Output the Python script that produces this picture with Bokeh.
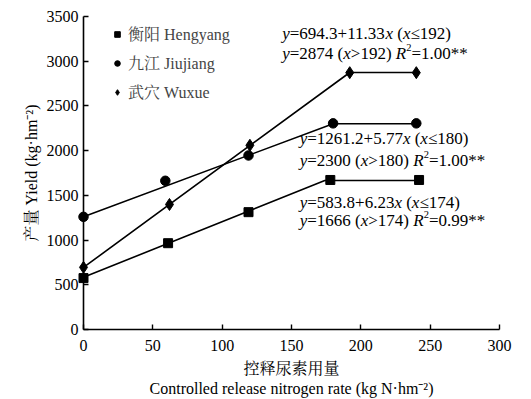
from bokeh.plotting import figure
from bokeh.models import Range1d, FixedTicker, Legend, LegendItem, Label
from bokeh.embed import file_html
from bokeh.resources import INLINE

# ---- data ----
x_ticks = [0, 50, 100, 150, 200, 250, 300]
y_ticks = [0, 500, 1000, 1500, 2000, 2500, 3000, 3500]

hengyang_x = [0, 61, 119, 178, 242]
hengyang_y = [575, 965, 1312, 1672, 1672]
jiujiang_x = [0, 59, 119, 180, 240]
jiujiang_y = [1260, 1663, 1946, 2305, 2305]
wuxue_x = [0, 62, 120, 192, 240]
wuxue_y = [695, 1398, 2060, 2872, 2872]

# fitted linear-plateau segments
hengyang_fit_x = [0, 174, 242]
hengyang_fit_y = [583.8, 1666, 1666]
jiujiang_fit_x = [0, 180, 240]
jiujiang_fit_y = [1261.2, 2300, 2300]
wuxue_fit_x = [0, 192, 240]
wuxue_fit_y = [694.3, 2874, 2874]

labels = ["衡阳 Hengyang", "九江 Jiujiang", "武穴 Wuxue"]

SERIF = "'Liberation Serif', 'Noto Serif CJK SC', 'Noto Sans CJK SC', serif"
FS = 16
EQ_FS = 17

p = figure(width=531, height=399, output_backend="svg", toolbar_location=None,
           x_range=Range1d(0, 300), y_range=Range1d(0, 3500),
           min_border_left=83, min_border_right=32, min_border_top=16, min_border_bottom=70)
p.outline_line_color = None
p.grid.visible = False
p.background_fill_color = "white"

for ax in (p.xaxis[0], p.yaxis[0]):
    ax.major_tick_in = 5
    ax.major_tick_out = 0
    ax.minor_tick_in = 0
    ax.minor_tick_out = 0
    ax.axis_line_width = 1.6
    ax.major_tick_line_width = 1.4
    ax.major_label_text_font = SERIF
    ax.major_label_text_font_size = f"{FS}px"
    ax.major_label_text_color = "#000000"
    ax.axis_label_text_font = SERIF
    ax.axis_label_text_font_size = f"{FS}px"
    ax.axis_label_text_font_style = "normal"
    ax.axis_label_text_color = "#000000"

p.xaxis[0].ticker = FixedTicker(ticks=x_ticks)
p.yaxis[0].ticker = FixedTicker(ticks=y_ticks)
p.xaxis[0].major_label_standoff = 10
p.yaxis[0].major_label_standoff = 5
p.xaxis[0].axis_label = "控释尿素用量\nControlled release nitrogen rate (kg N·hm⁻²)"
p.xaxis[0].axis_label_standoff = 6
p.yaxis[0].axis_label = "产量 Yield (kg·hm⁻²)"
p.yaxis[0].axis_label_standoff = 4

# fitted lines
for fx, fy in ((hengyang_fit_x, hengyang_fit_y), (jiujiang_fit_x, jiujiang_fit_y), (wuxue_fit_x, wuxue_fit_y)):
    p.line(fx, fy, line_color="black", line_width=1.6)

r1 = p.scatter(hengyang_x, hengyang_y, marker="square", size=9, color="black", level="overlay")
r2 = p.scatter(jiujiang_x, jiujiang_y, marker="circle", size=9.5, color="black", level="overlay")
r3 = p.scatter(wuxue_x, wuxue_y, marker="diamond", size=12, color="black", level="overlay")

legend = Legend(items=[LegendItem(label=labels[0], renderers=[r1]),
                       LegendItem(label=labels[1], renderers=[r2]),
                       LegendItem(label=labels[2], renderers=[r3])],
                location=(27, 226), padding=0, margin=0, spacing=6,
                glyph_width=14, glyph_height=20, label_height=20, label_standoff=4,
                label_text_font=SERIF, label_text_font_size=f"{FS}px",
                background_fill_alpha=0, border_line_alpha=0)
p.add_layout(legend, "center")

# annotations with mixed italic segments
W_REG = {"0": .5, "1": .5, "2": .5, "3": .5, "4": .5, "5": .5, "6": .5, "7": .5, "8": .5, "9": .5,
         ".": .25, "+": .564, "=": .564, " ": .25, "(": .333, ")": .333, "*": .5, "≤": .549, ">": .564}
W_IT = {"y": .444, "x": .444, "R": .611}


def seg_width(s, style, size):
    table = W_IT if style == "italic" else W_REG
    return sum(table.get(ch, .5) for ch in s) * size


def add_line(xd, yd, segs, size=EQ_FS):
    off = 0.0
    for s, kind in segs:
        sz = size * 0.62 if kind == "sup" else size
        style = "normal" if kind == "sup" else kind
        lead = len(s) - len(s.lstrip(" "))
        off += lead * W_REG[" "] * sz
        core = s.strip(" ")
        if core:
            p.add_layout(Label(x=xd, y=yd, x_offset=off,
                               y_offset=size * 0.35 if kind == "sup" else 0, text=core,
                               text_font=SERIF, text_font_size=f"{sz:.1f}px",
                               text_font_style=style, text_baseline="middle", text_color="black"))
            off += seg_width(core, style, sz)
        trail = len(s) - len(s.rstrip(" ")) if core else 0
        off += trail * W_REG[" "] * sz


def eq_lines(a, b, bp, plateau, r2):
    line1 = [("y", "italic"), (f"={a}+{b}", "normal"), ("x", "italic"), (" (", "normal"),
             ("x", "italic"), (f"≤{bp})", "normal")]
    line2 = [("y", "italic"), (f"={plateau} (", "normal"), ("x", "italic"), (f">{bp}) ", "normal"),
             ("R", "italic"), ("2", "sup"), (f"={r2}**", "normal")]
    return line1, line2


eq_w = eq_lines("694.3", "11.33", 192, 2874, "1.00")
eq_j = eq_lines("1261.2", "5.77", 180, 2300, "1.00")
eq_h = eq_lines("583.8", "6.23", 174, 1666, "0.99")

add_line(143.3, 3310, eq_w[0]); add_line(143.3, 3085, eq_w[1])
add_line(155.9, 2136, eq_j[0]); add_line(155.9, 1890, eq_j[1])
add_line(155.9, 1423, eq_h[0]); add_line(155.9, 1215, eq_h[1])

open("out.html", "w").write(file_html(p, INLINE))
